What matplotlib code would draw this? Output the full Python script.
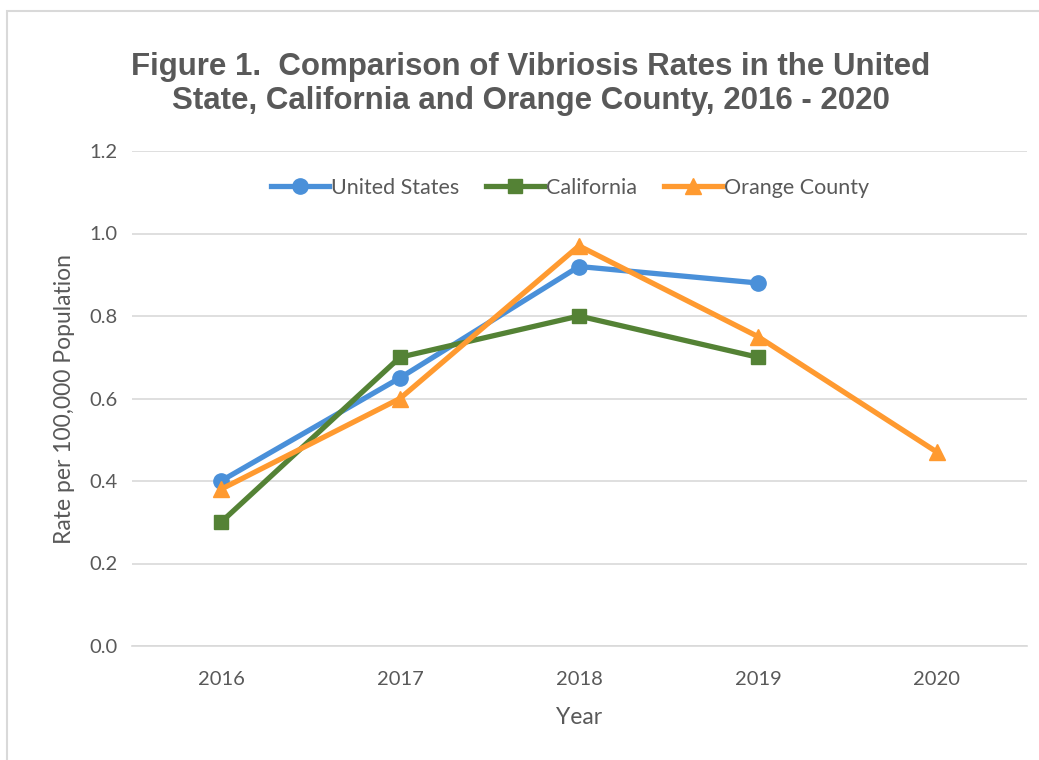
import numpy as np
import matplotlib.pyplot as plt
from matplotlib.patches import Rectangle

years = ["2016", "2017", "2018", "2019", "2020"]
united_states = [0.40, 0.65, 0.92, 0.88, np.nan]
california = [0.30, 0.70, 0.80, 0.70, np.nan]
orange_county = [0.38, 0.60, 0.97, 0.75, 0.47]

yticks = [0.0, 0.2, 0.4, 0.6, 0.8, 1.0, 1.2]

text_color = "#595959"
plt.rcParams["font.family"] = ["Lato", "DejaVu Sans"]

fig = plt.figure(figsize=(10.39, 7.6), dpi=100)
ax = fig.add_axes([131.5 / 1039, 1 - 646 / 760, 895 / 1039, 495 / 760])

# chart border (cropped on the right and bottom)
fig.patches.append(Rectangle((7 / 1039, -0.1), 1.2, 1 - 11 / 760 + 0.1,
                             transform=fig.transFigure, fill=False,
                             edgecolor="#d9d9d9", linewidth=1.5))

x = np.arange(len(years))
ax.plot(x, united_states, "-o", color="#4a90d9", linewidth=3.8,
        markersize=11, label="United States", zorder=3)
ax.plot(x, california, "-s", color="#548235", linewidth=3.8,
        markersize=9.5, label="California", zorder=3)
ax.plot(x, orange_county, "-^", color="#ff9a30", linewidth=3.8,
        markersize=11, label="Orange County", zorder=3)

ax.set_xlim(-0.5, len(years) - 0.5)
ax.set_ylim(0, 1.2)
ax.set_xticks(x, labels=years)
ax.set_yticks(yticks, labels=[f"{v:.1f}" for v in yticks])
ax.tick_params(axis="both", length=0, labelsize=14.5, labelcolor=text_color)
ax.tick_params(axis="x", pad=18)
ax.tick_params(axis="y", pad=10)

ax.grid(axis="y", color="#d9d9d9", linewidth=1.2)
ax.set_axisbelow(True)
for side in ["top", "right", "left"]:
    ax.spines[side].set_visible(False)
ax.spines["bottom"].set_color("#d9d9d9")
ax.spines["bottom"].set_linewidth(1.2)

ax.set_xlabel("Year", fontsize=16.5, color=text_color, labelpad=14)
ax.set_ylabel("Rate per 100,000 Population", fontsize=16.5, color=text_color,
              labelpad=10)

ax.legend(loc="upper center", bbox_to_anchor=(0.49, 0.985), ncol=3,
          frameon=False, fontsize=15.5, labelcolor=text_color,
          handlelength=2.7, handletextpad=0.1, columnspacing=1.25)

fig.text(0.511, 1 - 84 / 760,
         "Figure 1.  Comparison of Vibriosis Rates in the United\n"
         "State, California and Orange County, 2016 - 2020",
         ha="center", va="center", fontsize=22.5, fontweight="bold",
         color=text_color, family="Liberation Sans", linespacing=1.15)

fig.savefig("out.png", dpi=100)
